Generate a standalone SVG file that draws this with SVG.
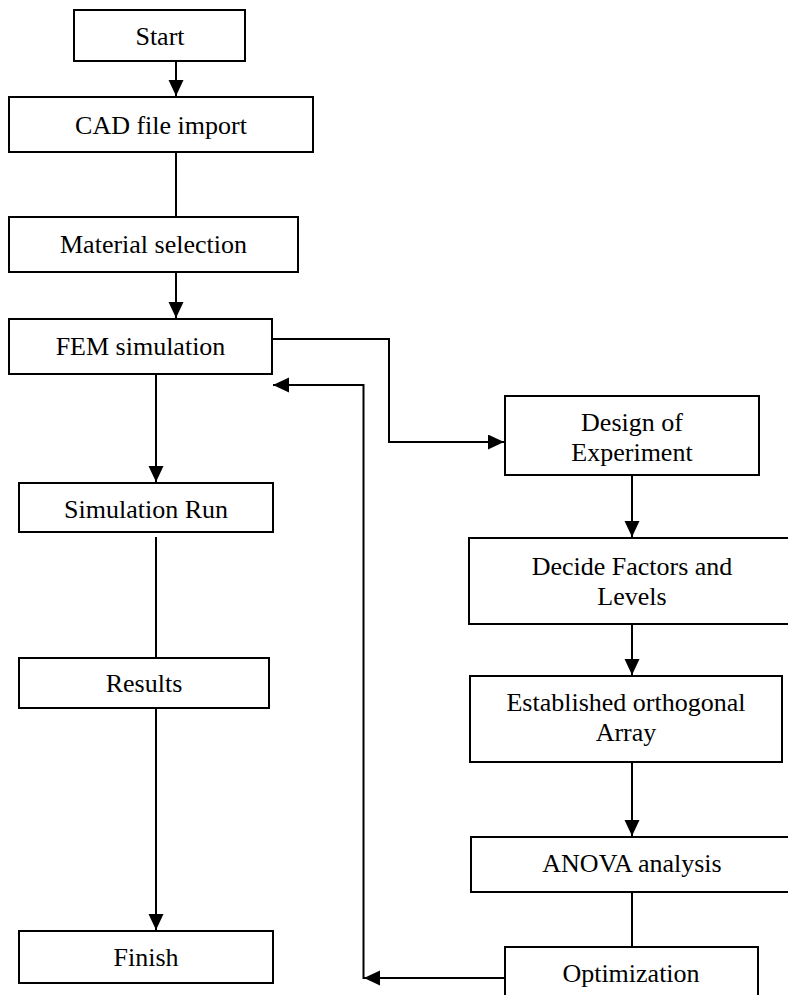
<svg xmlns="http://www.w3.org/2000/svg" width="788" height="995" viewBox="0 0 788 995">
<style>
.box{fill:#fff;stroke:#000;stroke-width:2}
.lbl{font-family:'Liberation Serif','Times New Roman',serif;font-size:26px;fill:#000;text-anchor:middle}
.con{fill:none;stroke:#000;stroke-width:2}
</style>
<defs>
<marker id="arr" markerUnits="userSpaceOnUse" markerWidth="17" markerHeight="16" refX="16" refY="7.5" orient="auto">
<path d="M0,0 L16,7.5 L0,15 z" fill="#000"/>
</marker>
</defs>
<rect width="788" height="995" fill="#fff"/>
<g id="connectors">
<path class="con" d="M176,61 V96" marker-end="url(#arr)"/>
<path class="con" d="M176,152 V217"/>
<path class="con" d="M176,272 V318" marker-end="url(#arr)"/>
<path class="con" d="M156,374 V482" marker-end="url(#arr)"/>
<path class="con" d="M156,537 V658"/>
<path class="con" d="M156,708 V930" marker-end="url(#arr)"/>
<path class="con" d="M272,339 H389 V442 H504" marker-end="url(#arr)"/>
<path class="con" d="M632,475 V537" marker-end="url(#arr)"/>
<path class="con" d="M632,624 V675" marker-end="url(#arr)"/>
<path class="con" d="M632,762 V836" marker-end="url(#arr)"/>
<path class="con" d="M632,892 V947"/>
<path class="con" d="M505,978 H364" marker-end="url(#arr)"/>
<path class="con" d="M363.5,979 V385 H273" marker-end="url(#arr)"/>
</g>
<g id="start"><rect class="box" x="74" y="10" width="171" height="51"/><text class="lbl" x="160" y="45">Start</text></g>
<g id="cad"><rect class="box" x="9" y="97" width="304" height="55"/><text class="lbl" x="161" y="134">CAD file import</text></g>
<g id="material"><rect class="box" x="9" y="217" width="289" height="55"/><text class="lbl" x="153.5" y="253">Material selection</text></g>
<g id="fem"><rect class="box" x="9" y="319" width="263" height="55"/><text class="lbl" x="140.5" y="355">FEM simulation</text></g>
<g id="simrun"><rect class="box" x="19" y="483" width="254" height="49"/><text class="lbl" x="146" y="518">Simulation Run</text></g>
<g id="results"><rect class="box" x="19" y="658" width="250" height="50"/><text class="lbl" x="144" y="692">Results</text></g>
<g id="finish"><rect class="box" x="19" y="931" width="254" height="52"/><text class="lbl" x="146" y="966">Finish</text></g>
<g id="doe"><rect class="box" x="505" y="396" width="254" height="79"/><text class="lbl" x="632" y="431">Design of</text><text class="lbl" x="632" y="461">Experiment</text></g>
<g id="decide"><rect class="box" x="469" y="538" width="330" height="86"/><text class="lbl" x="632" y="575">Decide Factors and</text><text class="lbl" x="632" y="605">Levels</text></g>
<g id="array"><rect class="box" x="470" y="676" width="312" height="86"/><text class="lbl" x="626" y="711">Established orthogonal</text><text class="lbl" x="626" y="741">Array</text></g>
<g id="anova"><rect class="box" x="471" y="837" width="330" height="55"/><text class="lbl" x="632" y="872">ANOVA analysis</text></g>
<g id="optim"><rect class="box" x="505" y="947" width="253" height="60"/><text class="lbl" x="631" y="982">Optimization</text></g>
</svg>
